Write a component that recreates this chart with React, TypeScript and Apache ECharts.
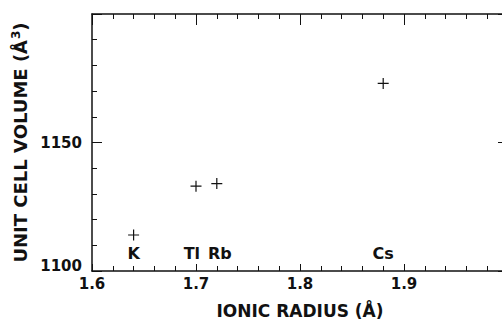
import React, { useEffect, useRef } from "react";
import * as echarts from "echarts";

const elements = ["K", "Tl", "Rb", "Cs"];
const ionicRadius = [1.64, 1.7, 1.72, 1.88];
const cellVolume = [1114, 1133, 1134, 1173];
const labelRadius = [1.64, 1.696, 1.723, 1.88];
const labelVolume = [1107, 1107, 1107, 1107];
const xLabels = ["1.6", "1.7", "1.8", "1.9"];
const yLabels = ["1100", "1150"];

const FONT = "DejaVu Sans";
const INK = "#111111";

export default function App() {
  const ref = useRef<HTMLDivElement>(null);
  useEffect(() => {
    const chart = echarts.init(ref.current!, null, { renderer: "svg" });
    const tickCommon = {
      axisLine: { show: true, lineStyle: { color: INK, width: 1.5 } },
      splitLine: { show: false },
      minorSplitLine: { show: false },
    };
    chart.setOption({
      animation: false,
      backgroundColor: "#ffffff",
      grid: { left: 92, top: 14, width: 416, height: 257, outerBoundsMode: "none", containLabel: false },
      xAxis: [
        {
          type: "value",
          position: "bottom",
          min: 1.6,
          max: 2.0,
          interval: 0.1,
          ...tickCommon,
          axisTick: { show: true, inside: true, length: 7, lineStyle: { color: INK, width: 1 } },
          minorTick: { show: true, splitNumber: 5, length: 5, lineStyle: { color: INK, width: 1 } },
          axisLabel: {
            margin: 5,
            color: INK,
            fontFamily: FONT,
            fontWeight: "bold",
            fontSize: 15,
            formatter: (v: number) => {
              const s = v.toFixed(1);
              return xLabels.includes(s) ? s : "";
            },
          },
          name: "IONIC RADIUS (Å)",
          nameLocation: "middle",
          nameGap: 31,
          nameTextStyle: { color: INK, fontFamily: FONT, fontWeight: "bold", fontSize: 17 },
        },
        {
          type: "value",
          position: "top",
          min: 1.6,
          max: 2.0,
          interval: 0.1,
          ...tickCommon,
          axisTick: { show: true, inside: true, length: 11, lineStyle: { color: INK, width: 1 } },
          minorTick: { show: true, splitNumber: 5, length: 5, lineStyle: { color: INK, width: 1 } },
          axisLabel: { show: false },
        },
      ],
      yAxis: [
        {
          type: "value",
          position: "left",
          min: 1100,
          max: 1200,
          interval: 50,
          ...tickCommon,
          axisTick: { show: true, inside: true, length: 10, lineStyle: { color: INK, width: 1 } },
          minorTick: { show: true, splitNumber: 5, length: 5, lineStyle: { color: INK, width: 1 } },
          axisLabel: {
            margin: 10,
            color: INK,
            fontFamily: FONT,
            fontWeight: "bold",
            fontSize: 15,
            formatter: (v: number) => {
              const s = String(Math.round(v));
              if (!yLabels.includes(s)) return "";
              return s === "1100" ? "{low|" + s + "}" : s;
            },
            rich: {
              low: {
                color: INK,
                fontFamily: FONT,
                fontWeight: "bold",
                fontSize: 15,
                padding: [0, 0, 10, 0],
              },
            },
          },
          name: "UNIT CELL VOLUME (Å{sup|3})",
          nameLocation: "middle",
          nameRotate: 90,
          nameGap: 50,
          nameTextStyle: {
            color: INK,
            fontFamily: FONT,
            fontWeight: "bold",
            fontSize: 18,
            rich: {
              sup: {
                color: INK,
                fontFamily: FONT,
                fontWeight: "bold",
                fontSize: 12,
                verticalAlign: "top",
                padding: [0, 0, 8, 1],
              },
            },
          },
        },
        {
          type: "value",
          position: "right",
          min: 1100,
          max: 1200,
          interval: 50,
          ...tickCommon,
          axisTick: { show: true, inside: true, length: 10, lineStyle: { color: INK, width: 1 } },
          minorTick: { show: true, splitNumber: 5, length: 5, lineStyle: { color: INK, width: 1 } },
          axisLabel: { show: false },
        },
      ],
      series: [
        {
          type: "scatter",
          xAxisIndex: 0,
          yAxisIndex: 0,
          symbol: "path://M5,0L5,10M0,5L10,5",
          symbolSize: 11,
          itemStyle: { color: "transparent", borderColor: INK, borderWidth: 1.2, opacity: 1 },
          data: ionicRadius.map((x, i) => ({ name: elements[i], value: [x, cellVolume[i]] })),
        },
        {
          type: "scatter",
          xAxisIndex: 0,
          yAxisIndex: 0,
          symbol: "circle",
          symbolSize: 1,
          itemStyle: { color: "transparent", opacity: 1 },
          label: {
            show: true,
            position: "inside",
            formatter: "{b}",
            color: INK,
            opacity: 1,
            textBorderWidth: 0,
            fontFamily: FONT,
            fontWeight: "bold",
            fontSize: 16,
          },
          data: labelRadius.map((x, i) => ({ name: elements[i], value: [x, labelVolume[i]] })),
        },
      ],
    });
    return () => chart.dispose();
  }, []);
  return (
    <div
      ref={ref}
      style={{ position: "fixed", left: 0, top: 0, width: 502, height: 320, background: "#fff" }}
    />
  );
}
